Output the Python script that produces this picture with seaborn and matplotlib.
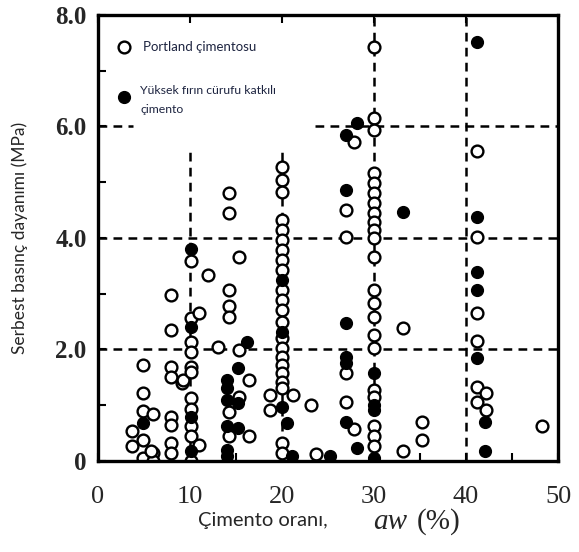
import numpy as np
import pandas as pd
import matplotlib.pyplot as plt
import seaborn as sns

# Portland cement (open circles): x = cement ratio aw (%), y = strength (MPa)
portland_x = (
    [3.7] * 2 + [4.9] * 5 + [6.0] * 3 + [5.8] + [8.0] * 8 + [9.1] + [9.3]
    + [10.1] * 11 + [11.0] * 2 + [12.0] + [13.1] + [14.2] * 7 + [15.3] * 3
    + [16.4] * 2 + [18.7] * 2 + [20.0] * 22 + [21.2] + [23.2] + [23.7]
    + [27.0] * 4 + [27.8] * 2 + [30.0] * 22 + [33.2] * 2 + [35.2] * 2
    + [41.2] * 6 + [42.2] * 2 + [48.2]
)
portland_y = [
    0.53, 0.26,
    1.72, 1.21, 0.90, 0.38, 0.05,
    0.85, 0.14, 0.00,
    0.17,
    2.98, 2.35, 1.69, 1.50, 0.79, 0.64, 0.32, 0.14,
    1.40,
    1.45,
    3.59, 2.56, 2.14, 1.96, 1.69, 1.60, 1.12, 0.94, 0.62, 0.44, 0.00,
    2.65, 0.29,
    3.34,
    2.05,
    4.80, 4.44, 3.07, 2.77, 2.59, 0.88, 0.44,
    3.65, 1.99, 1.15,
    1.45, 0.44,
    1.18, 0.91,
    5.28, 5.04, 4.83, 4.32, 4.14, 3.96, 3.78, 3.60, 3.43, 3.07, 2.89,
    2.71, 2.50, 2.20, 2.03, 1.87, 1.72, 1.58, 1.42, 1.30, 0.32, 0.14,
    1.18,
    1.00,
    0.12,
    4.50, 4.02, 1.57, 1.06,
    5.72, 0.57,
    7.43, 6.15, 5.94, 5.16, 4.98, 4.80, 4.62, 4.44, 4.29, 4.14, 3.99,
    3.66, 3.07, 2.83, 2.59, 2.26, 2.02, 1.27, 1.15, 0.62, 0.44, 0.26,
    2.38, 0.17,
    0.70, 0.38,
    5.55, 4.01, 2.66, 2.15, 1.33, 1.06,
    1.22, 0.91,
    0.62,
]

# Blast furnace slag cement (filled circles)
slag_x = (
    [4.9] + [10.1] * 4 + [14.0] * 6 + [15.2] * 3 + [16.2] + [20.0] * 3
    + [20.5] + [21.1] + [25.2] + [28.1] + [27.0] * 6 + [28.1]
    + [30.0] * 4 + [33.2] + [41.2] * 5 + [42.1] * 2
)
slag_y = [
    0.68,
    3.81, 2.41, 0.79, 0.17,
    1.45, 1.30, 1.09, 0.62, 0.20, 0.08,
    1.66, 1.04, 0.59,
    2.14,
    3.25, 2.32, 0.97,
    0.68,
    0.08,
    0.08,
    6.06,
    5.85, 4.86, 2.47, 1.87, 1.75, 0.70,
    0.23,
    1.57, 1.00, 0.92, 0.06,
    4.47,
    7.52, 4.38, 3.38, 3.07, 1.84,
    0.70, 0.17,
]

# dashed reference segments: (x0, x1, y0, y1)
guide_lines = [
    (0, 3.8, 6, 6), (23.6, 50, 6, 6),
    (0, 50, 4, 4), (0, 50, 2, 2),
    (10, 10, 0, 5.6), (20, 20, 0, 5.6),
    (30, 30, 0, 8), (40, 40, 0, 8),
]

x_ticks = [0, 10, 20, 30, 40, 50]
y_ticks = [0, 2, 4, 6, 8]
y_tick_labels = ["0", "2.0", "4.0", "6.0", "8.0"]

sns.set_style("white")
plt.rcParams['font.family'] = ['DejaVu Sans']

fig = plt.figure(figsize=(5.79, 5.52), dpi=100)
ax = fig.add_axes([0.169, 0.165, 0.795, 0.808])

for x0, x1, y0, y1 in guide_lines:
    ax.plot([x0, x1], [y0, y1], color='black', lw=1.8, ls=(0, (3.5, 2.5)), zorder=1)

df_p = pd.DataFrame({'x': portland_x, 'y': portland_y})
df_s = pd.DataFrame({'x': slag_x, 'y': slag_y})
sns.scatterplot(data=df_p, x='x', y='y', ax=ax, s=72, marker='o',
                facecolor='white', edgecolor='black', linewidth=1.7, zorder=3)
sns.scatterplot(data=df_s, x='x', y='y', ax=ax, s=72, marker='o',
                color='black', edgecolor='black', linewidth=1.0, zorder=4)

ax.set_xlim(0, 50)
ax.set_ylim(0, 8)
ax.set_xticks(x_ticks)
ax.set_xticklabels([str(t) for t in x_ticks], fontfamily='Liberation Serif', fontsize=19)
ax.set_yticks(y_ticks)
ax.set_yticklabels(y_tick_labels, fontfamily='Liberation Serif', fontsize=18, fontweight='bold')
ax.set_xticks([5, 15, 25, 35, 45], minor=True)
ax.set_yticks([1, 3, 5, 7], minor=True)
ax.tick_params(axis='both', which='both', direction='in', color='black')
ax.tick_params(axis='x', which='major', top=True, bottom=True, length=6, width=1.5, pad=18)
ax.tick_params(axis='x', which='minor', bottom=True, length=6, width=1.5)
ax.tick_params(axis='y', which='major', left=True, length=6, width=1.5, pad=8)
ax.tick_params(axis='y', which='minor', left=True, length=6, width=1.5)
for sp in ax.spines.values():
    sp.set_linewidth(2.4)
    sp.set_color('black')
    sp.set_visible(True)
    sp.set_zorder(5)

ax.set_xlabel("")
ax.set_ylabel("Serbest basınç dayanımı (MPa)", fontfamily='Lato', fontsize=12.5, labelpad=20)

fig.text(0.342, 0.057, "Çimento oranı,", fontfamily='Lato', fontsize=14.5, va='center')
fig.text(0.645, 0.055, "aw", fontfamily='Liberation Serif', fontstyle='italic', fontsize=21, va='center')
fig.text(0.720, 0.055, "(%)", fontfamily='Liberation Serif', fontsize=21, va='center')

# legend drawn inside the axes
ax.scatter([2.8], [7.43], s=72, facecolor='white', edgecolor='black', linewidth=1.7, zorder=4)
ax.scatter([2.8], [6.53], s=72, color='black', zorder=4)
ax.text(4.9, 7.43, "Portland çimentosu", fontfamily='Lato', fontsize=9.5, color='#1d2440', va='center')
ax.text(4.6, 6.64, "Yüksek fırın cürufu katkılı", fontfamily='Lato', fontsize=8.8, color='#1d2440', va='center')
ax.text(4.6, 6.30, "çimento", fontfamily='Lato', fontsize=8.8, color='#1d2440', va='center')

fig.savefig("out.png", dpi=100)
